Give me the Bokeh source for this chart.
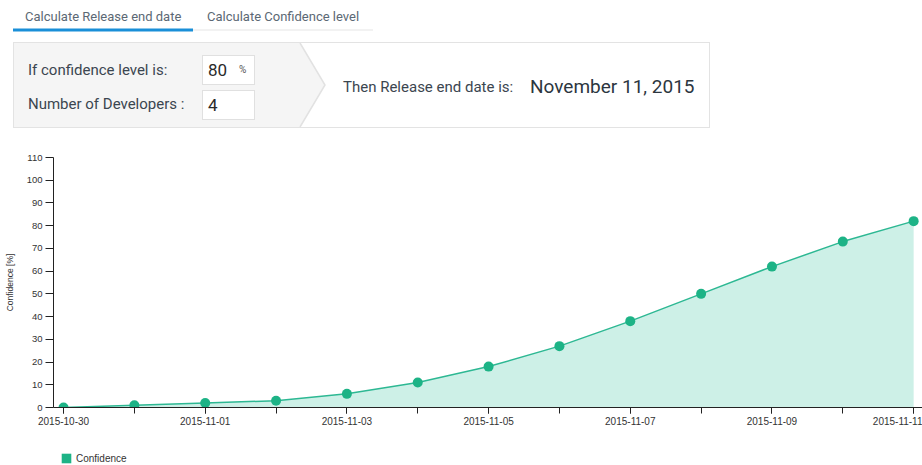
import pandas as pd
from bokeh.plotting import figure
from bokeh.layouts import column
from bokeh.models import (Range1d, FixedTicker, DatetimeTickFormatter, Legend, LegendItem,
                          ColumnDataSource, SingleIntervalTicker, Div)
from bokeh.embed import file_html
from bokeh.resources import INLINE

# ---- data ----
dates = ["2015-10-30", "2015-10-31", "2015-11-01", "2015-11-02", "2015-11-03",
         "2015-11-04", "2015-11-05", "2015-11-06", "2015-11-07", "2015-11-08",
         "2015-11-09", "2015-11-10", "2015-11-11"]
confidence = [0, 1, 2, 3, 6, 11, 18, 27, 38, 50, 62, 73, 82]

confidence_level = 80
developers = 4
release_end = "November 11, 2015"

tab_labels = ["Calculate Release end date", "Calculate Confidence level"]
series_name = "Confidence"

CHART_FONT = "Liberation Sans"
MINT = "#1db386"

# ---- header: tabs and calculator panel (plain HTML) ----
def txt(left, top, h, size, color, s, extra=""):
    return (f'<div style="position:absolute;left:{left}px;top:{top}px;height:{h}px;'
            f'line-height:{h}px;font-size:{size}px;color:{color};white-space:nowrap;{extra}">'
            f'{s}</div>')

shapes = (
    '<svg width="922" height="140" style="position:absolute;left:0;top:0">'
    '<rect x="193" y="29.5" width="180" height="1" fill="#e6e6e6"/>'
    '<rect x="13" y="28.5" width="180" height="3" fill="#1a8fd8"/>'
    '<rect x="13.5" y="42.5" width="696" height="85" fill="#ffffff" stroke="#e3e3e3"/>'
    '<polygon points="14,43 300,43 325,85 300,127 14,127" fill="#f5f5f5"/>'
    '<polyline points="300,43 325,85 300,127" fill="none" stroke="#e2e2e2" stroke-width="1.5"/>'
    '<rect x="202.5" y="55.5" width="52" height="29" fill="#ffffff" stroke="#e0e0e0"/>'
    '<rect x="202.5" y="90.5" width="52" height="29" fill="#ffffff" stroke="#e0e0e0"/>'
    '</svg>'
)

header_html = (
    '<div style="position:relative;width:922px;height:140px;font-family:Roboto,sans-serif;">'
    + shapes
    + txt(25, 8, 18, 13, "#5b6874", tab_labels[0])
    + txt(207, 8, 18, 13, "#5b6874", tab_labels[1])
    + txt(28, 60, 20, 15, "#3b4650", "If confidence level is:")
    + txt(28, 94, 20, 15, "#3b4650", "Number of Developers :")
    + txt(208, 60, 20, 17, "#2a2a2a", str(confidence_level))
    + txt(239, 60, 20, 10, "#555555", "%")
    + txt(208, 95, 20, 17, "#2a2a2a", str(developers))
    + txt(343, 77, 20, 15, "#3b4650", "Then Release end date is:")
    + txt(530, 76, 22, 19, "#2c3640", release_end)
    + '</div>'
)
header = Div(text=header_html, width=922, height=140, margin=0)

# ---- chart ----
x = pd.to_datetime(dates)
ms = [int(t.value // 10**6) for t in x]
src = ColumnDataSource(dict(x=x, y=confidence))

p = figure(width=922, height=305, x_axis_type="datetime",
           x_range=Range1d((x[0] - pd.Timedelta(hours=3.4)).to_pydatetime(),
                           (x[-1] + pd.Timedelta(hours=3.0)).to_pydatetime()),
           y_range=Range1d(0, 110),
           toolbar_location=None, output_backend="svg",
           min_border_left=53, min_border_right=0, min_border_top=17, min_border_bottom=38,
           outline_line_color=None, margin=0)
p.grid.visible = False

p.varea(x="x", y1=0, y2="y", source=src, fill_color="#cdf0e7")
p.line(x="x", y="y", source=src, line_color="#2db893", line_width=1.5)
p.scatter(x="x", y="y", source=src, size=10, fill_color=MINT, line_color=None)

p.xaxis.ticker = FixedTicker(ticks=ms[::2], minor_ticks=ms)
fmt = "%Y-%m-%d"
p.xaxis.formatter = DatetimeTickFormatter(days=fmt, months=fmt, years=fmt, hours=fmt,
                                          hourmin=fmt, minutes=fmt, minsec=fmt,
                                          seconds=fmt, milliseconds=fmt, microseconds=fmt)
p.yaxis.ticker = SingleIntervalTicker(interval=10, num_minor_ticks=0)
p.yaxis.axis_label = "Confidence [%]"

for ax in (p.xaxis, p.yaxis):
    ax.axis_line_color = "#222222"
    ax.major_tick_line_color = "#222222"
    ax.minor_tick_line_color = "#222222"
    ax.major_tick_in = 0
    ax.minor_tick_in = 0
    ax.major_label_text_font = CHART_FONT
    ax.major_label_text_color = "#333333"
    ax.major_label_standoff = 3

p.xaxis.major_tick_out = 6
p.xaxis.minor_tick_out = 6
p.yaxis.major_tick_out = 8
p.xaxis.major_label_text_font_size = "10px"
p.yaxis.major_label_text_font_size = "9.5px"
p.yaxis.axis_label_text_font = CHART_FONT
p.yaxis.axis_label_text_font_size = "8.5px"
p.yaxis.axis_label_text_font_style = "normal"
p.yaxis.axis_label_text_color = "#333333"
p.yaxis.axis_label_standoff = 9

# ---- legend strip under the chart ----
lg = figure(width=922, height=20, x_range=Range1d(0, 1), y_range=Range1d(0, 1),
            x_axis_type=None, y_axis_type=None, toolbar_location=None,
            output_backend="svg", min_border_left=53, min_border_right=0,
            min_border_top=0, min_border_bottom=0, outline_line_color=None, margin=0)
lg.grid.visible = False
# swatch glyph sits outside the strip's range, so only its legend entry shows
swatch = lg.quad(left=[5], right=[6], bottom=[5], top=[6], fill_color=MINT, line_color=None)
legend = Legend(items=[LegendItem(label=series_name, renderers=[swatch])],
                location=(7, 1), padding=0, margin=0, spacing=0,
                border_line_color=None, background_fill_alpha=0,
                glyph_width=12, glyph_height=12, label_height=12, label_standoff=4,
                label_text_font=CHART_FONT, label_text_font_size="10px",
                label_text_color="#333333")
lg.add_layout(legend, "center")

layout = column(header, p, lg, spacing=0)
open("out.html", "w").write(file_html(layout, INLINE))
